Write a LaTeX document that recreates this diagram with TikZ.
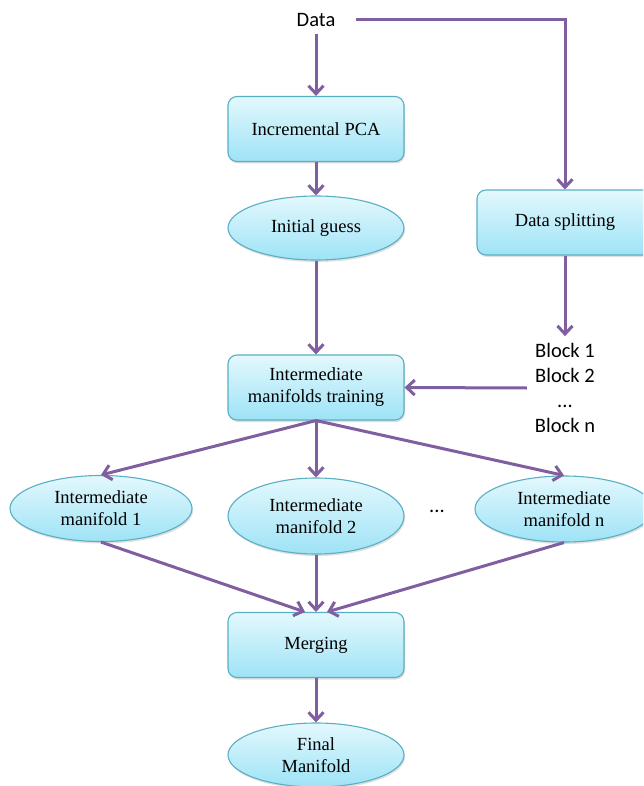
\documentclass[tikz,border=0pt]{standalone}
\usepackage{fontspec}
\setmainfont{Liberation Serif}
\newfontfamily\calib{Carlito}
\usetikzlibrary{arrows.meta,shapes.geometric,shadows,calc}
\definecolor{arrowc}{HTML}{7F5FA0}
\definecolor{bordc}{HTML}{5AAFC3}
\definecolor{topc}{HTML}{E3F8FD}
\definecolor{botc}{HTML}{9EE3F6}
\tikzset{
  boxnode/.style={draw=bordc, line width=1.1pt, rounded corners=9pt,
    top color=topc, bottom color=botc, minimum width=176pt, minimum height=65pt,
    align=center, font=\fontsize{18.5}{22}\selectfont, inner sep=2pt,
    drop shadow={opacity=0.25, shadow xshift=1pt, shadow yshift=-2pt}},
  ellnode/.style={ellipse, draw=bordc, line width=1.1pt,
    top color=topc, bottom color=botc, minimum width=176pt, minimum height=64pt,
    align=center, font=\fontsize{18.5}{22}\selectfont, inner sep=0pt,
    drop shadow={opacity=0.25, shadow xshift=1pt, shadow yshift=-2pt}},
  plain/.style={align=center, font=\calib\fontsize{20.5}{25}\selectfont, inner sep=2pt},
  arr/.style={draw=arrowc, line width=3pt, -{Straight Barb[length=8pt,width=15pt]}}
}
\begin{document}
\begin{tikzpicture}[x=1pt,y=-1pt]
\fill[white] (0,0) rectangle (643,786);
\useasboundingbox (0,0) rectangle (643,786);
\clip (0,0) rectangle (643,786);
\node[plain] (data) at (316,20) {Data};
\node[boxnode] (pca) at (316,129) {Incremental PCA};
\node[ellnode] (init) at (316,228) {Initial guess};
\node[boxnode] (split) at (565,222.5) {Data splitting};
\node[plain] (blocks) at (565,388) {Block 1\\Block 2\\...\\Block n};
\node[boxnode] (train) at (316,387.5) {Intermediate\\manifolds training};
\node[ellnode, minimum width=182pt, minimum height=66pt] (m1) at (101,508.5) {Intermediate\\manifold 1};
\node[ellnode, minimum height=76pt] (m2) at (316,516) {Intermediate\\manifold 2};
\node[plain] (dots) at (437,511) {...};
\node[ellnode, minimum width=178pt, minimum height=66pt] (mn) at (564,509) {Intermediate\\manifold n};
\node[boxnode] (merge) at (316,645) {Merging};
\node[ellnode] (final) at (316,755) {Final\\Manifold};
\draw[arr] ([yshift=-5pt]data.south) -- (pca.north);
\draw[arr] ([xshift=18pt]data.east) -| (split.north);
\draw[arr] (pca.south) -- (init.north);
\draw[arr] (init.south) -- (train.north);
\draw[arr] (split.south) -- ([yshift=5pt]blocks.north);
\draw[arr] ([xshift=-6pt]blocks.west) -- (train.east);
\draw[arr] (train.south) -- (m1.north);
\draw[arr] (train.south) -- (m2.north);
\draw[arr] (train.south) -- (mn.north);
\draw[arr] (m1.south) -- ([xshift=-11pt]merge.north);
\draw[arr] (m2.south) -- (merge.north);
\draw[arr] (mn.south) -- ([xshift=11pt]merge.north);
\draw[arr] (merge.south) -- (final.north);
\end{tikzpicture}
\end{document}
